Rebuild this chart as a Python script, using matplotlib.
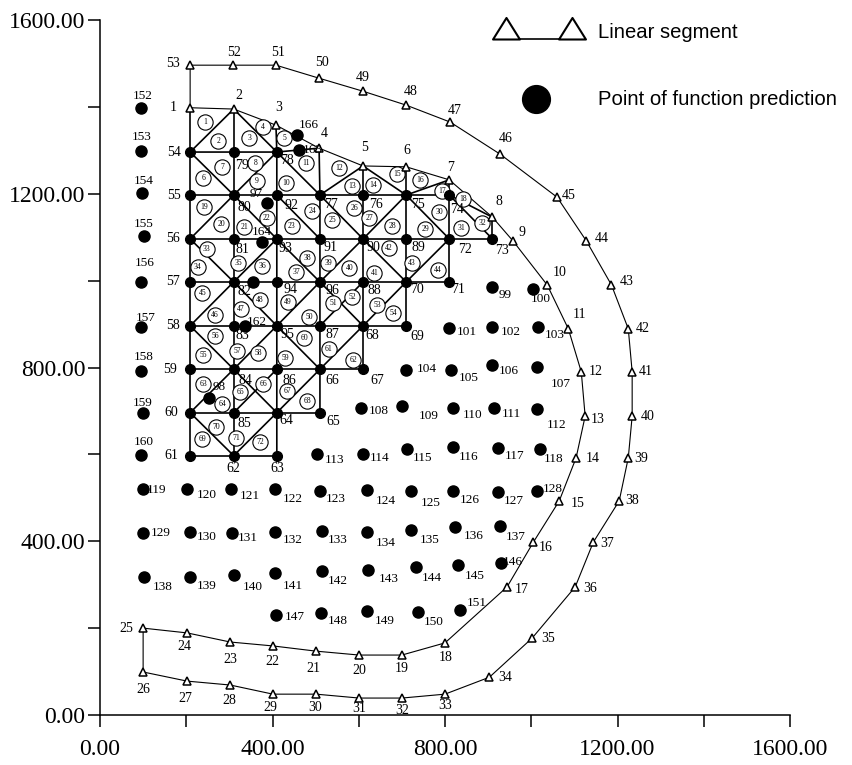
import matplotlib
matplotlib.use("Agg")
import matplotlib.pyplot as plt
from matplotlib.path import Path
from matplotlib.ticker import MultipleLocator, FormatStrFormatter

# boundary nodes 1-53
bound_x = [209, 310, 408, 508, 610, 710, 810, 910, 958, 1037, 1086, 1116, 1125, 1104, 1065, 1005, 944, 800,
           700, 601, 501, 401, 302, 202, 100, 100, 202, 302, 401, 501, 601, 700, 800, 903, 1002, 1102, 1144,
           1204, 1225, 1234, 1234, 1225, 1186, 1128, 1060, 928, 812, 710, 610, 508, 408, 309, 209]
bound_y = [1398, 1395, 1358, 1305, 1264, 1262, 1232, 1146, 1091, 990, 889, 790, 688, 592, 493, 398, 295, 166,
           138, 138, 147, 159, 168, 189, 200, 99, 78, 69, 48, 48, 39, 39, 48, 87, 177, 295, 398,
           493, 592, 688, 790, 889, 990, 1091, 1192, 1291, 1365, 1404, 1436, 1466, 1496, 1496, 1496]

# interior mesh nodes 54-96
mesh_x = [209, 209, 209, 209, 209, 209, 209, 209, 310, 410, 410, 510, 510, 610, 610, 710, 710, 810, 810, 910,
          810, 710, 610, 510, 410, 310, 310, 310, 310, 310, 310, 310, 410, 510, 610, 710, 610, 510, 410, 410,
          410, 410, 510]
mesh_y = [1296, 1197, 1096, 997, 896, 796, 696, 597, 597, 597, 696, 696, 796, 796, 896, 896, 997, 997, 1096, 1096,
          1197, 1197, 1197, 1197, 1296, 1296, 1197, 1096, 997, 896, 796, 696, 796, 896, 997, 1096, 1096, 1096, 1197, 1096,
          997, 896, 997]

# points of function prediction 97-160
pred_x = [387, 253, 909, 1005, 810, 909, 1016, 710, 814, 909, 1014, 606, 701, 819, 914, 1014, 503, 610, 712, 819,
          923, 1021, 100, 202, 304, 406, 510, 619, 722, 819, 923, 1014, 100, 209, 306, 406, 515, 619, 722, 824,
          928, 102, 209, 311, 406, 515, 622, 733, 831, 930, 408, 513, 619, 738, 835, 95, 95, 97, 102, 95,
          95, 95, 100, 95]
pred_y = [1179, 730, 985, 981, 891, 893, 893, 794, 794, 806, 801, 707, 711, 707, 707, 704, 601, 601, 612, 617,
          615, 612, 520, 520, 520, 520, 516, 518, 516, 516, 513, 516, 419, 421, 419, 421, 424, 421, 426, 433,
          435, 318, 318, 322, 327, 331, 334, 341, 345, 350, 230, 235, 239, 237, 242, 1397, 1298, 1202, 1103, 997,
          893, 792, 695, 599]

# the few extra points, numbered out of order in the picture
extra_names = ["162", "163", "164", "166", ""]
extra_x = [336, 462, 376, 457, 355]
extra_y = [895, 1301, 1089, 1335, 997]

# circled element numbers 1-72
elem_x = [244, 274, 346, 378, 427, 239, 283, 360, 364, 432, 478, 554, 585, 633, 689, 742, 793, 842, 241, 281,
          334, 387, 445, 492, 538, 589, 624, 677, 754, 786, 838, 886, 248, 227, 320, 376, 455, 480, 529, 578,
          636, 670, 724, 784, 237, 267, 327, 371, 436, 485, 541, 585, 643, 680, 239, 267, 318, 367, 429, 473,
          531, 587, 239, 283, 325, 378, 434, 480, 237, 269, 316, 371]
elem_y = [1365, 1321, 1328, 1354, 1328, 1236, 1262, 1271, 1229, 1225, 1271, 1259, 1218, 1220, 1245, 1232, 1206, 1188, 1169, 1130,
          1123, 1144, 1126, 1160, 1140, 1167, 1144, 1126, 1119, 1158, 1121, 1133, 1073, 1031, 1041, 1034, 1020, 1052, 1041, 1029,
          1017, 1075, 1041, 1024, 971, 921, 935, 955, 951, 916, 948, 962, 944, 925, 829, 872, 838, 833, 822, 868,
          843, 817, 762, 716, 744, 762, 746, 723, 635, 663, 638, 628]

# mesh connectivity, node numbers
chains = [
    [54, 79, 78, 4], [55, 80, 92, 77, 76, 75, 74], [56, 81, 93, 91, 90, 89, 72, 73],
    [57, 82, 94, 96, 88, 70, 71], [58, 83, 95, 87, 68, 69], [59, 84, 86, 66, 67],
    [60, 85, 64, 65], [61, 62, 63],
    [1, 54, 55, 56, 57, 58, 59, 60, 61], [2, 79, 80, 81, 82, 83, 84, 85, 62],
    [3, 78, 92, 93, 94, 95, 86, 64, 63], [4, 77, 91, 96, 87, 66, 65], [5, 76, 90, 88, 68, 67],
    [6, 75, 89, 70, 69], [7, 74, 72, 71], [8, 73],
    [54, 2], [2, 78], [78, 77], [54, 80], [80, 78], [77, 5], [5, 75], [75, 7], [74, 8], [74, 73],
    [56, 80], [80, 93], [92, 91], [77, 90], [90, 75], [75, 72],
    [56, 82], [82, 93], [93, 96], [96, 90], [90, 70], [70, 72],
    [58, 82], [82, 95], [95, 96], [96, 68], [87, 88], [68, 70],
    [58, 84], [84, 95], [95, 66], [66, 68],
    [60, 84], [84, 64], [85, 86], [64, 66],
    [60, 62], [62, 64],
]

# label offsets from the mark, in pixels
bound_off = [(-17, 0), (5, 14), (3, 18), (5, 15), (2, 18), (1, 16), (1, 12), (7, 16), (9, 9), (12, 12), (11, 14),
             (14, 0), (13, -3), (17, -1), (18, -3), (12, -5), (15, -3), (1, -15), (0, -13), (0, -15), (-3, -17),
             (-1, -16), (0, -17), (-3, -14), (-17, 0), (0, -18), (-2, -17), (-1, -15), (-3, -13), (-1, -13), (0, -10),
             (0, -12), (0, -11), (16, 0), (16, 0), (15, -2), (14, -1), (13, 0), (13, -1), (16, 0), (14, 0), (14, 0),
             (15, 3), (15, 3), (12, 2), (5, 16), (5, 12), (5, 14), (0, 14), (3, 16), (2, 13), (1, 13), (-17, 2)]
mesh_off = [(-16, 0), (-16, 0), (-17, 0), (-17, 0), (-17, 0), (-20, 0), (-19, 0), (-19, 0), (0, -13), (0, -13),
            (10, -8), (13, -9), (12, -11), (14, -11), (9, -10), (11, -11), (11, -8), (9, -8), (16, -11), (10, -12),
            (8, -14), (12, -9), (13, -9), (11, -9), (10, -8), (8, -13), (11, -12), (9, -11), (11, -10), (9, -10),
            (12, -11), (11, -11), (13, -11), (12, -9), (11, -9), (12, -9), (10, -9), (11, -9), (15, -10), (9, -10),
            (14, -8), (11, -9), (13, -9)]
pred_off = [(-11, 9), (10, 11), (13, -8), (7, -10), (18, -4), (19, -5), (17, -8), (21, 1), (18, -8), (17, -6),
            (23, -17), (17, -3), (26, -10), (19, -7), (17, -6), (19, -16), (18, -6), (17, -4), (15, -9), (15, -10),
            (17, -8), (13, -10), (13, -1), (20, -6), (19, -7), (18, -10), (16, -8), (19, -11), (19, -12), (17, -9),
            (16, -9), (15, 2), (18, 0), (17, -5), (16, -5), (18, -8), (16, -9), (19, -11), (18, -10), (18, -9),
            (16, -11), (19, -10), (17, -9), (19, -12), (18, -13), (16, -10), (20, -9), (16, -11), (16, -11), (12, 1),
            (19, -2), (17, -8), (18, -10), (15, -10), (17, 7), (2, 12), (1, 14), (2, 12), (0, 12), (4, 19),
            (5, 9), (3, 14), (0, 10), (3, 13)]
extra_off = [(12, 4), (13, 0), (0, 10), (12, 10), (0, 0)]

fig = plt.figure(figsize=(8.52, 7.65), dpi=100)
ax = fig.add_axes([100 / 852, 50 / 765, 690 / 852, 695 / 765])
ax.set_xlim(0, 1600)
ax.set_ylim(0, 1600)
ax.spines["top"].set_visible(False)
ax.spines["right"].set_visible(False)
ax.spines["left"].set_linewidth(1.1)
ax.spines["bottom"].set_linewidth(1.1)
ax.patch.set_visible(False)

serif = "Liberation Serif"
for axis in (ax.xaxis, ax.yaxis):
    axis.set_major_locator(MultipleLocator(400))
    axis.set_minor_locator(MultipleLocator(200))
    axis.set_major_formatter(FormatStrFormatter("%.2f"))
ax.tick_params(which="both", length=8.6, width=1.1)
ax.tick_params(axis="x", pad=9, labelsize=17)
ax.tick_params(axis="y", pad=2, labelsize=17)
for lab in ax.get_xticklabels() + ax.get_yticklabels():
    lab.set_family(serif)

node_x = bound_x + mesh_x
node_y = bound_y + mesh_y

# outer boundary, closed from 53 back to 1, plus the 25-26 side
ax.plot(bound_x + bound_x[:1], bound_y + bound_y[:1], color="black", lw=0.8, zorder=2, clip_on=False)

for chain in chains:
    ax.plot([node_x[n - 1] for n in chain], [node_y[n - 1] for n in chain], color="black", lw=1.2, zorder=2)

ax.plot(elem_x, elem_y, ls="none", marker="o", ms=11, mfc="white", mec="black", mew=0.8, zorder=3)
for i in range(len(elem_x)):
    ax.text(elem_x[i], elem_y[i], str(i + 1), family=serif, fontsize=5.5, ha="center", va="center", zorder=4)

ax.plot(bound_x, bound_y, ls="none", marker="^", ms=5.5, mfc="white", mec="black", mew=1.1, zorder=5)
ax.plot(mesh_x, mesh_y, ls="none", marker="o", ms=7, color="black", zorder=5)
ax.plot(pred_x + extra_x, pred_y + extra_y, ls="none", marker="o", ms=8, color="black", zorder=5)


def put_labels(xs, ys, names, offs, size):
    for x, y, name, off in zip(xs, ys, names, offs):
        ax.annotate(name, (x, y), xytext=off, textcoords="offset pixels", family=serif, fontsize=size,
                    ha="center", va="center", zorder=6)


put_labels(bound_x, bound_y, [str(i) for i in range(1, 54)], bound_off, 10)
put_labels(mesh_x, mesh_y, [str(i) for i in range(54, 97)], mesh_off, 10)
put_labels(pred_x, pred_y, [str(i) for i in range(97, 161)], pred_off, 9.5)
put_labels(extra_x, extra_y, extra_names, extra_off, 9.5)

# legend, placed by hand like the original
base_tri = Path([(-0.5, 0), (0.5, 0), (0, 0.8), (-0.5, 0)], closed=True)
ax.plot([941, 1094], [1556, 1556], color="black", lw=1.2, marker=base_tri, ms=31, mfc="white", mec="black",
        mew=1.5, clip_on=False)
ax.plot([1012], [1418], marker="o", ms=20, color="black", clip_on=False)
ax.text(1155, 1572, "Linear segment", family="Liberation Sans", fontsize=14.6, va="center")
ax.text(1155, 1418, "Point of function prediction", family="Liberation Sans", fontsize=14.6, va="center")

fig.savefig("out.png", dpi=100)
